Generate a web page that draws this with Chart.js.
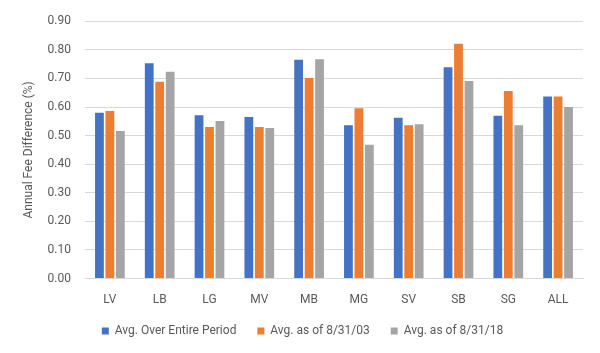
<!DOCTYPE html>
<html>
<head>
<meta charset="utf-8">
<script src="https://cdn.jsdelivr.net/npm/chart.js@4"></script>
<style>
html,body{margin:0;padding:0;background:#fff;}
#wrap{width:600px;height:353px;position:relative;}
</style>
</head>
<body>
<div id="wrap"><canvas id="chart"></canvas></div>
<script>
/* data */
const categories=["LV","LB","LG","MV","MB","MG","SV","SB","SG","ALL"];
const avgEntire=[0.58,0.753,0.571,0.565,0.765,0.536,0.562,0.739,0.569,0.637];
const avg2003=[0.586,0.688,0.530,0.530,0.701,0.596,0.536,0.821,0.656,0.637];
const avg2018=[0.516,0.723,0.551,0.527,0.767,0.468,0.540,0.691,0.536,0.600];
const yTicks=[0,0.1,0.2,0.3,0.4,0.5,0.6,0.7,0.8,0.9];

const FONT="'Roboto',sans-serif";
const TXT="#595959";

new Chart(document.getElementById("chart"),{
type:"bar",
data:{
labels:categories,
datasets:[
{label:"Avg. Over Entire Period",data:avgEntire,backgroundColor:"#4472C4"},
{label:"Avg. as of 8/31/03",data:avg2003,backgroundColor:"#ED7D31"},
{label:"Avg. as of 8/31/18",data:avg2018,backgroundColor:"#A5A5A5"}
]},
options:{
responsive:true,
maintainAspectRatio:false,
animation:false,
datasets:{bar:{categoryPercentage:0.63,barPercentage:0.84}},
layout:{padding:{left:22,right:17,top:12,bottom:6}},
plugins:{
legend:{
position:"bottom",
labels:{
boxWidth:7,boxHeight:7,padding:12,color:TXT,font:{family:FONT,size:12},
// extra gap between legend items
generateLabels:ch=>Chart.defaults.plugins.legend.labels.generateLabels(ch).map((l,i,a)=>{
if(i<a.length-1) l.text+="\u00A0\u00A0\u00A0";
return l;
})
}
},
tooltip:{enabled:false}
},
scales:{
x:{
grid:{display:false},
border:{color:"#d9d9d9"},
ticks:{color:TXT,padding:6,font:{family:FONT,size:12}}
},
y:{
min:0,max:0.9,
afterBuildTicks:ax=>{ax.ticks=yTicks.map(v=>({value:v}));},
afterFit:ax=>{ax.width=63;},
grid:{color:"#d9d9d9",drawTicks:false},
border:{display:false},
title:{display:true,text:"Annual Fee Difference (%)",color:TXT,font:{family:FONT,size:12},padding:{top:0,bottom:4}},
ticks:{color:TXT,padding:14,font:{family:FONT,size:12},callback:v=>v.toFixed(2)}
}
}
}
});
</script>
</body>
</html>
